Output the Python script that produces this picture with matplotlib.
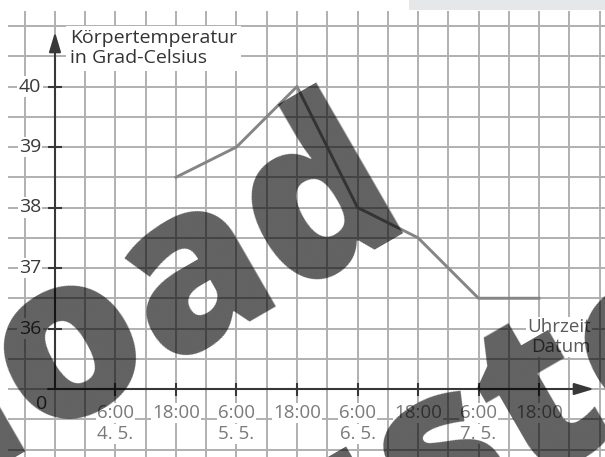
import matplotlib
matplotlib.use("Agg")
import matplotlib.pyplot as plt
from matplotlib.patches import Rectangle
import numpy as np

plt.rcParams['font.family'] = ['Open Sans', 'DejaVu Sans']

# values (hours counted from 0:00 on 4.5.)
hours = [18, 30, 42, 54, 66, 78, 90]
temps = [38.5, 39, 40, 38, 37.5, 36.5, 36.5]

tick_hours = [6, 18, 30, 42, 54, 66, 78, 90]
tick_times = ["6:00", "18:00", "6:00", "18:00", "6:00", "18:00", "6:00", "18:00"]
tick_dates = ["4. 5.", "", "5. 5.", "", "6. 5.", "", "7. 5.", ""]
y_ticks = [36, 37, 38, 39, 40]

# pixel helpers (grid cell = 6 h horizontally, 0.5 degC vertically)
def px_h(px):
    return -6 + 6 * (px - 55) / 30.25

def px_t(py):
    return 35 + (389 - py) / 60.5

fig = plt.figure(figsize=(6.05, 4.57), dpi=100)
ax = fig.add_axes([0, 0, 1, 1])
ax.set_xlim(px_h(0), px_h(605))
ax.set_ylim(px_t(457), px_t(0))
ax.axis('off')

grid_col = '#b0b0b0'
ax.vlines(np.arange(-12, 103, 6), px_t(457), px_t(11), color=grid_col, lw=1.4, zorder=1)
ax.hlines(np.arange(34, 41.01, 0.5), px_h(8), px_h(605), color=grid_col, lw=1.4, zorder=1)

# light bar at the top right
fig.patches.append(Rectangle((409 / 605, 1 - 10 / 457), 196 / 605, 10 / 457,
                             transform=fig.transFigure, facecolor='#e6e7e8', edgecolor='none'))

# axes with arrows
axis_col = '#383838'
arrow = dict(arrowstyle='-|>,head_length=1.2,head_width=0.36', color=axis_col,
             lw=1.5, shrinkA=0, shrinkB=0, mutation_scale=10)
ax.annotate('', xy=(px_h(594), 35), xytext=(px_h(48), 35), arrowprops=arrow, zorder=3)
ax.annotate('', xy=(-6, px_t(32)), xytext=(-6, 35), arrowprops=arrow, zorder=3)

# ticks
ax.hlines(y_ticks, px_h(48), px_h(62), color=axis_col, lw=1.5, zorder=3)
ax.vlines(tick_hours, px_t(396), px_t(383), color=axis_col, lw=1.5, zorder=3)

box = dict(facecolor='white', edgecolor='none', pad=1.0)
for t in y_ticks:
    ax.text(px_h(30), t, str(t), ha='center', va='center', fontsize=14,
            color='#3a3a3a', bbox=box, zorder=4)
for h, tm, d in zip(tick_hours, tick_times, tick_dates):
    ax.text(h, px_t(413), tm, ha='center', va='center', fontsize=13.5,
            color='#7a7a7a', bbox=box, zorder=4)
    if d:
        ax.text(h, px_t(434), d, ha='center', va='center', fontsize=13.5,
                color='#7a7a7a', bbox=box, zorder=4)
ax.text(px_h(42), px_t(404), "0", ha='center', va='center', fontsize=14, color='#3a3a3a', zorder=4)

ax.text(px_h(70), px_t(29), "Körpertemperatur\nin Grad-Celsius", ha='left', va='top',
        fontsize=14, color='#333333', linespacing=1.15,
        bbox=dict(facecolor='white', edgecolor='none', pad=2.5), zorder=4)
ax.text(px_h(591), px_t(318), "Uhrzeit\nDatum", ha='right', va='top', multialignment='right',
        fontsize=13.5, color='#5a5a5a', linespacing=1.15, bbox=box, zorder=4)

# temperature curve
ax.plot(hours, temps, color='#858585', lw=2.1, zorder=3)

# watermark
fig.text(415 / 605, 1 - 216 / 457, "Download", rotation=30, rotation_mode='anchor',
         ha='right', va='baseline', fontsize=165, fontweight=800, color='black', alpha=0.62)
fig.text(96 / 605, 1 - 727 / 457, "Muster", rotation=30, rotation_mode='anchor',
         ha='left', va='baseline', fontsize=165, fontweight=800, color='black', alpha=0.62)

fig.savefig("out.png", dpi=100)
